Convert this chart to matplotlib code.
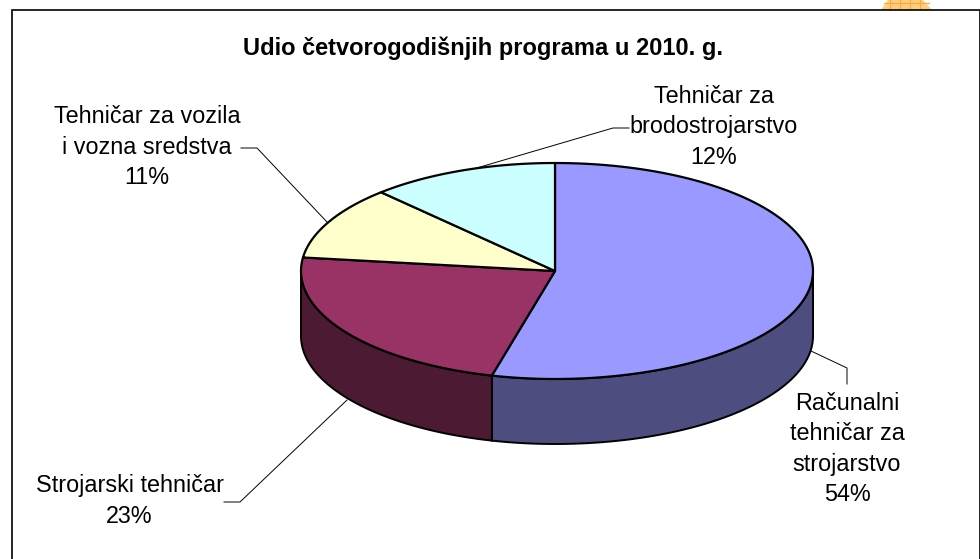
import numpy as np
import matplotlib
matplotlib.use('Agg')
import matplotlib.pyplot as plt
from matplotlib.patches import Polygon, Rectangle

plt.rcParams['font.family'] = ['Liberation Sans', 'DejaVu Sans']

title = 'Udio četvorogodišnjih programa u 2010. g.'
names = ['Računalni\ntehničar za\nstrojarstvo', 'Strojarski tehničar',
         'Tehničar za vozila\ni vozna sredstva', 'Tehničar za\nbrodostrojarstvo']
shares = [54, 23, 11, 12]
top_colors = ['#9999FF', '#993366', '#FFFFCC', '#CCFFFF']
side_colors = ['#4D4D80', '#4D1A33', '#808066', '#668080']

# pie geometry, in image pixels
cx, cy = 555, 271
rx_right, rx_left = 258, 254
ry = 108
depth = 65

label_xy = [(847, 449), (129.5, 501), (147, 147), (714, 127)]
leaders = [[(811, 351), (847, 368), (847, 384)],
           [(347, 400), (240, 502), (224, 502)],
           [(327, 222), (257, 148), (241, 148)],
           [(463, 172), (613, 128), (629, 128)]]

fig = plt.figure(figsize=(9.8, 5.59), dpi=100)
ax = fig.add_axes([0, 0, 1, 1])
ax.set_xlim(0, 980)
ax.set_ylim(559, 0)
ax.axis('off')

# orange scrap of the page behind the chart
ax.add_patch(Polygon([(881, 10), (888, 0), (923, 0), (932, 10)], fc='#FFCC80', ec='none', zorder=0))
for gx in (890, 900, 910, 920):
    ax.plot([gx, gx], [0, 10], color='#FFA930', lw=0.8, zorder=0)
ax.plot([884, 929], [3, 3], color='#FFA930', lw=0.8, zorder=0)

ax.add_patch(Rectangle((12, 10), 968, 560, fc='white', ec='black', lw=1.2, zorder=1))


def rim(a0, a1):
    t = np.radians(np.linspace(a0, a1, 120))
    s = np.sin(t)
    return cx + np.where(s > 0, rx_right, rx_left) * s, cy - ry * np.cos(t)


edges = np.cumsum([0] + shares) * 3.6

# sides first, only the front half of the rim shows
for i in range(len(shares)):
    a0, a1 = max(edges[i], 90), min(edges[i + 1], 270)
    if a0 >= a1:
        continue
    x, y = rim(a0, a1)
    pts = np.r_[np.c_[x, y], np.c_[x[::-1], y[::-1] + depth]]
    ax.add_patch(Polygon(pts, fc=side_colors[i], ec='black', lw=1.4, zorder=2))

for i in range(len(shares)):
    x, y = rim(edges[i], edges[i + 1])
    pts = np.r_[[(cx, cy)], np.c_[x, y]]
    ax.add_patch(Polygon(pts, fc=top_colors[i], ec='black', lw=1.6, joinstyle='round', zorder=3))

for pts in leaders:
    px, py = zip(*pts)
    ax.plot(px, py, color='black', lw=0.7, zorder=2)

for name, share, (lx, ly) in zip(names, shares, label_xy):
    ax.text(lx, ly, f'{name}\n{share}%', ha='center', va='center', fontsize=16.8,
            linespacing=1.42, zorder=4)

ax.text(483, 48.5, title, ha='center', va='center', fontsize=17, fontweight='bold', zorder=4)

fig.savefig('out.png', dpi=100)
